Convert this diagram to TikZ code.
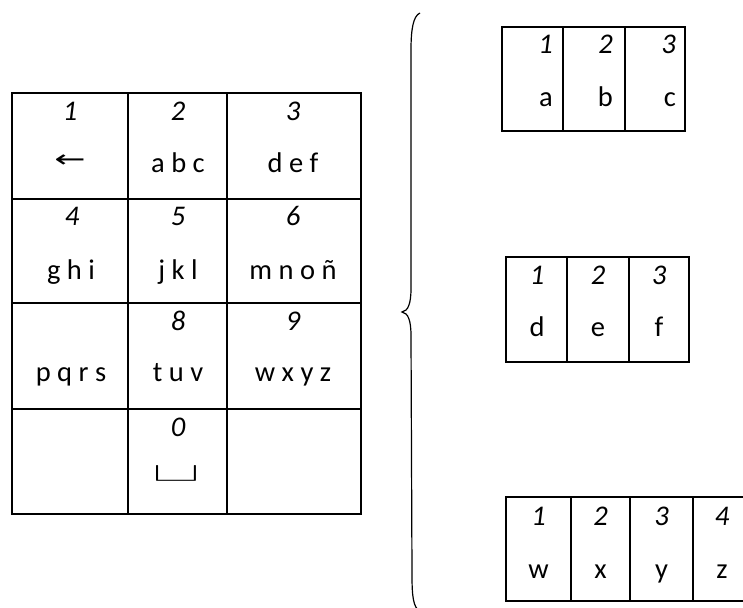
\documentclass[tikz,border=0pt]{standalone}
\usepackage{fontspec}
\usepackage{graphicx}
\setmainfont{Carlito}
\newfontfamily\symfont{DejaVu Sans}
\newfontfamily\lmfont{Latin Modern Roman}
\begin{document}
\begin{tikzpicture}[x=1pt,y=-1pt,
  gridline/.style={line width=1.4pt, black},
  numtxt/.style={font=\fontsize{28.5}{32}\selectfont\itshape, inner sep=0pt, anchor=base},
  lettxt/.style={font=\fontsize{28.5}{32}\selectfont, inner sep=0pt, anchor=base},
  numr/.style={numtxt, anchor=base east},
  letr/.style={lettxt, anchor=base east},
  symtxt/.style={inner sep=0pt, anchor=center}]
\useasboundingbox (0,0) rectangle (743,607);
\clip (0,0) rectangle (743,607);
% ---------- keypad ----------
\draw[gridline] (12,93) rectangle (361,514);
\foreach \x in {128,227} \draw[gridline] (\x,93) -- (\x,514);
\foreach \y in {199,303,409} \draw[gridline] (12,\y) -- (361,\y);
% row 1
\node[numtxt] (n1) at (70,120.7) {1};
\node[numtxt] (n2) at (178,120.7) {2};
\node[numtxt] (n3) at (293,120.7) {3};
\node[symtxt] (back) at (70,161.5) {\scalebox{1.7}[1.1]{\symfont\fontsize{22}{26}\selectfont ←}};
\node[lettxt] (abc) at (178,172.7) {a b c};
\node[lettxt] (def) at (293,172.7) {d e f};
% row 2
\node[numtxt] (n4) at (72,225.7) {4};
\node[numtxt] (n5) at (178,225.7) {5};
\node[numtxt] (n6) at (293,225.7) {6};
\node[lettxt] (ghi) at (71,279) {g h i};
\node[lettxt] (jkl) at (178,279) {j k l};
\node[lettxt] (mno) at (293,279) {m n o ñ};
% row 3
\node[numtxt] (n8) at (178,330) {8};
\node[numtxt] (n9) at (293,330) {9};
\node[lettxt] (pqrs) at (71,381.7) {p q r s};
\node[lettxt] (tuv) at (178,381.7) {t u v};
\node[lettxt] (wxyz) at (293,381.7) {w x y z};
% row 4
\node[numtxt] (n0) at (178,436.7) {0};
\node[symtxt] (spc) at (177,473.5) {\resizebox*{48pt}{16pt}{\lmfont\bfseries\fontsize{30}{30}\selectfont\textvisiblespace}};
% ---------- brace ----------
\draw[line width=1.2pt] (420,13) .. controls (413,16) and (411,30) .. (411,50)
  -- (411,288) .. controls (411,304) and (408,311) .. (402,312)
  .. controls (408,313) and (411,320) .. (411,336)
  -- (412,575) .. controls (412,595) and (413,608) .. (420,611);
% ---------- box abc ----------
\draw[gridline] (502,27) rectangle (685,131);
\foreach \x in {563,625} \draw[gridline] (\x,27) -- (\x,131);
\node[numr] (a1) at (553,54) {1};
\node[numr] (a2) at (613,54) {2};
\node[numr] (a3) at (676,54) {3};
\node[letr] (la) at (553,106.7) {a};
\node[letr] (lb) at (613,106.7) {b};
\node[letr] (lc) at (676,106.7) {c};
% ---------- box def ----------
\draw[gridline] (506,257) rectangle (689,362);
\foreach \x in {567,629} \draw[gridline] (\x,257) -- (\x,362);
\node[numtxt] (d1) at (537,284.3) {1};
\node[numtxt] (d2) at (598,284.3) {2};
\node[numtxt] (d3) at (659,284.3) {3};
\node[lettxt] (ld) at (537,336.7) {d};
\node[lettxt] (le) at (598,336.7) {e};
\node[lettxt] (lf) at (659,336.7) {f};
% ---------- box wxyz ----------
\draw[gridline] (506,497) rectangle (755,601);
\foreach \x in {571,630,693} \draw[gridline] (\x,497) -- (\x,601);
\node[numtxt] (w1) at (538.5,525) {1};
\node[numtxt] (w2) at (600.5,525) {2};
\node[numtxt] (w3) at (661.5,525) {3};
\node[numtxt] (w4) at (722,525) {4};
\node[lettxt] (lw) at (538.5,578) {w};
\node[lettxt] (lx) at (600.5,578) {x};
\node[lettxt] (ly) at (661.5,578) {y};
\node[lettxt] (lz) at (722,578) {z};
\end{tikzpicture}
\end{document}
